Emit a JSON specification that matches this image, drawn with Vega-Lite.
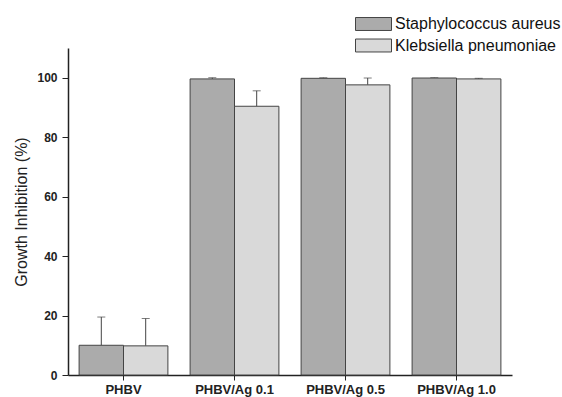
{
  "$schema": "https://vega.github.io/schema/vega-lite/v6.json",
  "autosize": "none",
  "width": 444,
  "height": 327,
  "padding": {"left": 68, "top": 48, "right": 50, "bottom": 22},
  "background": "white",
  "config": {
    "view": {"stroke": null},
    "font": "Liberation Sans",
    "axis": {"domainColor": "#222", "tickColor": "#222", "labelColor": "#222", "titleColor": "#222", "grid": false}
  },
  "data": {
    "values": [
      {"sample": "PHBV", "strain": "Staphylococcus aureus", "value": 10.0, "upper": 19.5},
      {"sample": "PHBV", "strain": "Klebsiella pneumoniae", "value": 9.8, "upper": 19.0},
      {"sample": "PHBV/Ag 0.1", "strain": "Staphylococcus aureus", "value": 99.6, "upper": 100.0},
      {"sample": "PHBV/Ag 0.1", "strain": "Klebsiella pneumoniae", "value": 90.4, "upper": 95.6},
      {"sample": "PHBV/Ag 0.5", "strain": "Staphylococcus aureus", "value": 99.8, "upper": 100.0},
      {"sample": "PHBV/Ag 0.5", "strain": "Klebsiella pneumoniae", "value": 97.6, "upper": 99.9},
      {"sample": "PHBV/Ag 1.0", "strain": "Staphylococcus aureus", "value": 99.9, "upper": 100.0},
      {"sample": "PHBV/Ag 1.0", "strain": "Klebsiella pneumoniae", "value": 99.6, "upper": 99.8}
    ]
  },
  "encoding": {
    "x": {
      "field": "sample", "type": "nominal", "sort": null,
      "scale": {"paddingInner": 0.2, "paddingOuter": 0.1},
      "axis": {"title": null, "labelAngle": 0, "labelFontSize": 13, "labelFontWeight": "bold", "tickSize": 5, "labelPadding": 3, "domainWidth": 1.5}
    },
    "xOffset": {"field": "strain", "type": "nominal", "sort": ["Staphylococcus aureus", "Klebsiella pneumoniae"]}
  },
  "layer": [
    {
      "mark": {"type": "rule", "color": "#444", "strokeWidth": 1},
      "encoding": {
        "y": {"field": "value", "type": "quantitative"},
        "y2": {"field": "upper"}
      }
    },
    {
      "mark": {"type": "tick", "color": "#444", "size": 8, "thickness": 1},
      "encoding": {
        "y": {"field": "upper", "type": "quantitative"}
      }
    },
    {
      "mark": {"type": "bar", "stroke": "#444", "strokeWidth": 1},
      "encoding": {
        "y": {
          "field": "value", "type": "quantitative",
          "scale": {"domain": [0, 110], "nice": false},
          "axis": {"title": "Growth Inhibition (%)", "titleFontSize": 16, "titleFontWeight": "normal", "titlePadding": 7,
                   "values": [0, 10, 20, 30, 40, 50, 60, 70, 80, 90, 100],
                   "labelExpr": "datum.value % 20 === 0 ? datum.label : ''",
                   "labelFontSize": 12, "labelFontWeight": "bold", "tickSize": 6, "labelPadding": 5, "domainWidth": 1.5}
        },
        "fill": {
          "field": "strain", "type": "nominal",
          "sort": ["Staphylococcus aureus", "Klebsiella pneumoniae"],
          "scale": {"range": ["#ababab", "#d9d9d9"]},
          "legend": {
            "title": null, "orient": "none", "legendX": 296, "legendY": -33.5,
            "symbolType": "M-2,-0.72H2V0.72H-2Z", "symbolSize": 324, "symbolStrokeColor": "#444", "symbolStrokeWidth": 1,
            "labelFontSize": 16, "labelColor": "#111", "labelLimit": 400, "rowPadding": 3.5, "labelOffset": 12
          }
        }
      }
    }
  ]
}
